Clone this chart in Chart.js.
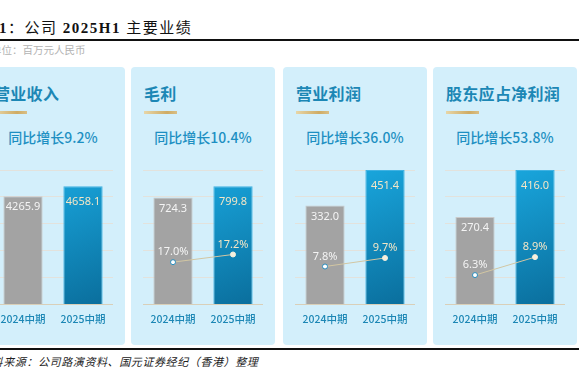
<!DOCTYPE html>
<html>
<head>
<meta charset="utf-8">
<script src="https://cdn.jsdelivr.net/npm/chart.js@4.4.1/dist/chart.umd.min.js"></script>
<style>
  html, body { margin: 0; padding: 0; background: #ffffff; }
  #page { position: relative; width: 579px; height: 373px; overflow: hidden; background: #fff; }
  .abs { position: absolute; white-space: nowrap; }
  #title { left: -1px; top: 19px; font-size: 15px; line-height: 18px; color: #111; letter-spacing: 1.5px;
           font-family: "Liberation Serif", "Noto Sans CJK SC", serif; }
  #title b { font-family: "Liberation Serif", serif; font-weight: bold; }
  #rule1 { left: 0; top: 39px; width: 579px; height: 1.5px; background: #111; }
  #unit { left: -9px; top: 43px; font-size: 10.5px; line-height: 14px; color: #b3b3b3;
          font-family: "Noto Sans CJK SC", sans-serif; }
  #rule2 { left: 0; top: 348px; width: 579px; height: 2px; background: #111; }
  #source { left: -20px; top: 354px; font-size: 11px; line-height: 14px; color: #222; font-style: italic; letter-spacing: 0.6px;
            font-family: "Noto Sans CJK SC", serif; }
  .panel { position: absolute; top: 67px; width: 144px; height: 278px; background: #d3effb; border-radius: 4px; }
  .ptitle { position: absolute; left: 13px; top: 16px; font-size: 16px; line-height: 20px; font-weight: bold; color: #1c87b5;
            font-family: "Noto Sans CJK SC", sans-serif; white-space: nowrap; letter-spacing: 0.3px; }
  .gold { position: absolute; left: 13px; top: 44px; width: 33px; height: 3px;
          background: linear-gradient(90deg, #e7d6a8, #cfab63 70%, #d9bf86); }
  .growth { position: absolute; left: 0; width: 144px; top: 60px; text-align: center; font-size: 14px; line-height: 20px;
            font-weight: 500; color: #1d8fc2; font-family: "Noto Sans CJK SC", sans-serif; white-space: nowrap; }
  .cwrap { position: absolute; left: 5px; top: 98px; width: 134px; height: 175px; }
</style>
</head>
<body>
<div id="page">
  <div id="title" class="abs"><b>1</b>：公司 <b>2025H1</b> 主要业绩</div>
  <div id="rule1" class="abs"></div>
  <div id="unit" class="abs">单位：百万元人民币</div>
  <div id="panels"></div>
  <div id="rule2" class="abs"></div>
  <div id="source" class="abs">资料来源：公司路演资料、国元证券经纪（香港）整理</div>
</div>
<script>
// ---------- data ----------
const categories = ['2024中期', '2025中期'];
const panelTitles = ['营业收入', '毛利', '营业利润', '股东应占净利润'];
const growthLabels = ['同比增长9.2%', '同比增长10.4%', '同比增长36.0%', '同比增长53.8%'];
const revenue = [4265.9, 4658.1];
const grossProfit = [724.3, 799.8];
const operatingProfit = [332.0, 451.4];
const netProfit = [270.4, 416.0];
const grossMargin = [17.0, 17.2];
const operatingMargin = [7.8, 9.7];
const netMargin = [6.3, 8.9];

// ---------- per-panel axis settings ----------
const barValues = [revenue, grossProfit, operatingProfit, netProfit];
const marginValues = [null, grossMargin, operatingMargin, netMargin];
const barAxisMax = [5300, 910, 451.4, 416.0];
const marginAxisMin = [0, 15.9, -0.64, 2.06];
const marginAxisMax = [1, 19.4, 29.3, 21.5];
const panelLefts = [-19, 131, 283, 433];

const FONT = '"Noto Sans CJK SC", sans-serif';

const labelPlugin = {
  id: 'valueLabels',
  afterDatasetsDraw(chart) {
    const ctx = chart.ctx;
    chart.data.datasets.forEach((ds, di) => {
      const meta = chart.getDatasetMeta(di);
      meta.data.forEach((el, i) => {
        const v = ds.data[i];
        if (v == null) return;
        const isLine = ds.type === 'line';
        const txt = isLine ? v.toFixed(1) + '%' : v.toFixed(1);
        const y = isLine ? el.y - 10 : el.y + (i === 0 ? 11 : 16);
        ctx.save();
        ctx.font = '11px "Noto Sans", "Liberation Sans", sans-serif';
        ctx.textAlign = 'center';
        ctx.textBaseline = 'middle';
        ctx.fillStyle = i === 0 ? '#f4f4f4' : '#f3e6c6';
        ctx.fillText(txt, el.x, y);
        ctx.restore();
      });
    });
  }
};

function blueGradient(context) {
  const chart = context.chart;
  const a = chart.chartArea;
  if (!a) return '#0a8fc4';
  const g = chart.ctx.createLinearGradient(a.left + (a.right - a.left) * 0.55, a.top, a.right, a.bottom);
  g.addColorStop(0, '#19a6dd');
  g.addColorStop(1, '#0a6d9b');
  return g;
}

const panelsDiv = document.getElementById('panels');
panelTitles.forEach((t, p) => {
  const panel = document.createElement('div');
  panel.className = 'panel';
  panel.style.left = panelLefts[p] + 'px';
  panel.innerHTML = '<div class="ptitle">' + t + '</div><div class="gold"></div>' +
    '<div class="growth">' + growthLabels[p] + '</div>' +
    '<div class="cwrap"><canvas width="134" height="175"></canvas></div>';
  panelsDiv.appendChild(panel);
  const canvas = panel.querySelector('canvas');

  const datasets = [{
    type: 'bar',
    data: barValues[p],
    yAxisID: 'y',
    order: 2,
    backgroundColor: (c) => c.dataIndex === 0 ? '#a3a3a3' : blueGradient(c),
    borderColor: (c) => c.dataIndex === 0 ? '#cacaca' : '#40b2e2',
    borderWidth: 1,
    barPercentage: 0.655,
    categoryPercentage: 1
  }];
  if (marginValues[p]) {
    datasets.push({
      type: 'line',
      data: marginValues[p],
      yAxisID: 'y2',
      order: 0,
      borderColor: '#d2c6a2',
      borderWidth: 1,
      pointRadius: 2.5,
      pointBorderWidth: 1,
      pointBackgroundColor: ['#ffffff', '#f6f0de'],
      pointBorderColor: ['#2a8dbd', '#f6f0de']
    });
  }

  new Chart(canvas, {
    data: { labels: categories, datasets },
    plugins: [labelPlugin],
    options: {
      responsive: false,
      animation: false,
      layout: { padding: { left: 7, right: 7, top: 5, bottom: 7 } },
      plugins: { legend: { display: false }, tooltip: { enabled: false } },
      scales: {
        x: {
          offset: true,
          grid: { display: false, drawTicks: false },
          border: { display: false },
          ticks: { color: '#1c87b5', padding: 8, font: { family: FONT, size: 10.5, weight: 500 } }
        },
        y: {
          min: 0,
          max: barAxisMax[p],
          ticks: { display: false, stepSize: barAxisMax[p] / 5 },
          border: { display: false },
          grid: { drawTicks: false, lineWidth: 1, color: (c) => c.index === 0 ? '#d9cfb8' : '#e3e2dc' }
        },
        y2: {
          display: false,
          min: marginAxisMin[p],
          max: marginAxisMax[p]
        }
      }
    }
  });
});
</script>
</body>
</html>
